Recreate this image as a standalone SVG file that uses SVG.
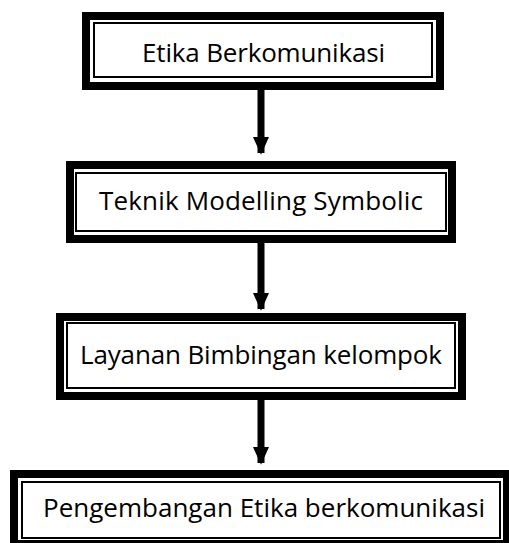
<svg xmlns="http://www.w3.org/2000/svg" width="509" height="543" viewBox="0 0 509 543">
<style>
.outer{fill:#fff;stroke:#000;stroke-width:8}
.inner{fill:none;stroke:#000;stroke-width:2}
.lbl{font-family:"Open Sans","Noto Sans","DejaVu Sans",sans-serif;font-size:26px;fill:#000}
.shaft{stroke:#000;stroke-width:7}
</style>
<defs>
<marker id="ah" markerUnits="userSpaceOnUse" markerWidth="18" markerHeight="20" refX="18" refY="9" orient="auto" viewBox="0 0 20 18">
<path d="M0,0 L20,9 L0,18 Z" fill="#000"/>
</marker>
</defs>
<g id="connectors">
<line class="shaft" x1="261" y1="90" x2="261" y2="153" marker-end="url(#ah)"/>
<line class="shaft" x1="261" y1="243" x2="261" y2="309" marker-end="url(#ah)"/>
<line class="shaft" x1="261" y1="400" x2="261" y2="463" marker-end="url(#ah)"/>
</g>
<g id="node1">
<rect class="outer" x="86" y="16" width="354" height="70"/>
<rect class="inner" x="94" y="23" width="338" height="54"/>
<text class="lbl" x="142" y="62" textLength="243" lengthAdjust="spacing">Etika Berkomunikasi</text>
</g>
<g id="node2">
<rect class="outer" x="70" y="165" width="382" height="74"/>
<rect class="inner" x="76" y="173" width="370" height="58"/>
<text class="lbl" x="99" y="210" textLength="324" lengthAdjust="spacing">Teknik Modelling Symbolic</text>
</g>
<g id="node3">
<rect class="outer" x="60" y="317" width="402" height="79"/>
<rect class="inner" x="67" y="323" width="388" height="65"/>
<text class="lbl" x="80" y="364" textLength="362" lengthAdjust="spacing">Layanan Bimbingan kelompok</text>
</g>
<g id="node4">
<rect class="outer" x="14" y="474" width="493" height="70"/>
<rect class="inner" x="22" y="482" width="478" height="56"/>
<text class="lbl" x="43" y="517" textLength="442" lengthAdjust="spacing">Pengembangan Etika berkomunikasi</text>
</g>
</svg>
